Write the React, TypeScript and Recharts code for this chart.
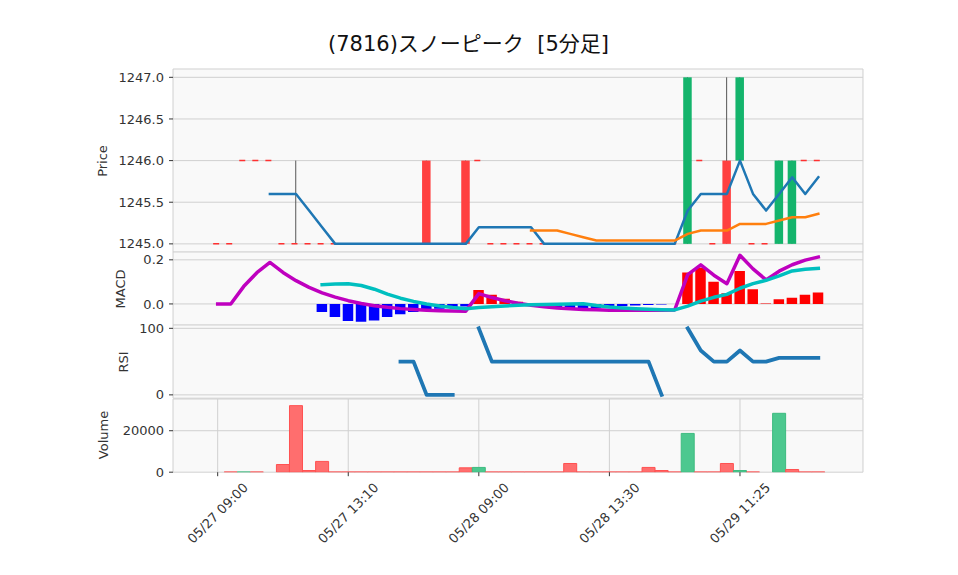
import React from 'react';
import { ComposedChart, Bar, Line, XAxis, YAxis, CartesianGrid, Cell } from 'recharts';

// ---- data (5-minute bars, index 0..46) ----
const barIndex = [
  0, 1, 2, 3, 4, 5, 6, 7, 8, 9, 10, 11, 12, 13, 14, 15, 16, 17, 18, 19, 20, 21, 22, 23,
  24, 25, 26, 27, 28, 29, 30, 31, 32, 33, 34, 35, 36, 37, 38, 39, 40, 41, 42, 43, 44, 45, 46,
];
const tickIndex = [0, 10, 20, 30, 40];
const tickLabels = ['05/27 09:00', '05/27 13:10', '05/28 09:00', '05/28 13:30', '05/29 11:25'];

const opens = [
  1245, 1245, 1246, 1246, 1246, 1245, 1245, 1245, 1245, 1245,
  1245, 1245, 1245, 1245, 1245, 1245, 1246, 1245, 1245, 1246,
  1246, 1245, 1245, 1245, 1245, 1245, 1245, 1245, 1245, 1245,
  1245, 1245, 1245, 1245, 1245, 1245, 1245, 1246, 1245, 1246,
  1246, 1245, 1245, 1245, 1245, 1246, 1246,
];
const highs = [
  1245, 1245, 1246, 1246, 1246, 1245, 1246, 1245, 1245, 1245,
  1245, 1245, 1245, 1245, 1245, 1245, 1246, 1245, 1245, 1246,
  1246, 1245, 1245, 1245, 1245, 1245, 1245, 1245, 1245, 1245,
  1245, 1245, 1245, 1245, 1245, 1245, 1247, 1246, 1245, 1247,
  1247, 1245, 1245, 1246, 1246, 1246, 1246,
];
const lows = [
  1245, 1245, 1246, 1246, 1246, 1245, 1245, 1245, 1245, 1245,
  1245, 1245, 1245, 1245, 1245, 1245, 1245, 1245, 1245, 1245,
  1246, 1245, 1245, 1245, 1245, 1245, 1245, 1245, 1245, 1245,
  1245, 1245, 1245, 1245, 1245, 1245, 1245, 1246, 1245, 1245,
  1246, 1245, 1245, 1245, 1245, 1246, 1246,
];
const closes = [
  1245, 1245, 1246, 1246, 1246, 1245, 1245, 1245, 1245, 1245,
  1245, 1245, 1245, 1245, 1245, 1245, 1245, 1245, 1245, 1245,
  1246, 1245, 1245, 1245, 1245, 1245, 1245, 1245, 1245, 1245,
  1245, 1245, 1245, 1245, 1245, 1245, 1247, 1246, 1245, 1245,
  1247, 1245, 1245, 1246, 1246, 1246, 1246,
];
const ma5 = [
  null, null, null, null, 1245.6, 1245.6, 1245.6, 1245.4, 1245.2, 1245.0,
  1245.0, 1245.0, 1245.0, 1245.0, 1245.0, 1245.0, 1245.0, 1245.0, 1245.0, 1245.0,
  1245.2, 1245.2, 1245.2, 1245.2, 1245.2, 1245.0, 1245.0, 1245.0, 1245.0, 1245.0,
  1245.0, 1245.0, 1245.0, 1245.0, 1245.0, 1245.0, 1245.4, 1245.6, 1245.6, 1245.6,
  1246.0, 1245.6, 1245.4, 1245.6, 1245.8, 1245.6, 1245.8,
];
const ma25 = [
  null, null, null, null, null, null, null, null, null, null,
  null, null, null, null, null, null, null, null, null, null,
  null, null, null, null, 1245.16, 1245.16, 1245.16, 1245.12, 1245.08, 1245.04,
  1245.04, 1245.04, 1245.04, 1245.04, 1245.04, 1245.04, 1245.12, 1245.16, 1245.16, 1245.16,
  1245.24, 1245.24, 1245.24, 1245.28, 1245.32, 1245.32, 1245.36,
];
const macdLine = [
  0, 0, 0.0798, 0.1414, 0.188, 0.1426, 0.1055, 0.0751, 0.0505, 0.0307,
  0.0148, 0.0021, -0.0078, -0.0155, -0.0213, -0.0257, -0.0288, -0.0309, -0.0322, -0.0328,
  0.0468, 0.0289, 0.0145, 0.0031, -0.0059, -0.0128, -0.0181, -0.0221, -0.025, -0.0269,
  -0.0281, -0.0288, -0.0289, -0.0287, -0.0282, -0.0275, 0.1329, 0.1772, 0.1302, 0.0919,
  0.2204, 0.159, 0.1091, 0.1485, 0.1777, 0.1985, 0.2126,
];
const signalLine = [
  null, null, null, null, null, null, null, null, 0.087, 0.0904,
  0.092, 0.0834, 0.0668, 0.0442, 0.026, 0.0114, -0.0001, -0.0092, -0.0161, -0.0214,
  -0.0165, -0.0124, -0.0091, -0.0063, -0.0041, -0.0024, -0.0009, 0.0002, 0.001, -0.0071,
  -0.0135, -0.0183, -0.0218, -0.0244, -0.0261, -0.0271, -0.0099, 0.0126, 0.03, 0.0433,
  0.071, 0.0919, 0.1072, 0.1269, 0.1497, 0.1569, 0.1609,
];
const macdHist = [
  null, null, null, null, null, null, null, null, -0.0365, -0.0597,
  -0.0772, -0.0813, -0.0746, -0.0597, -0.0473, -0.0371, -0.0287, -0.0217, -0.0161, -0.0114,
  0.0633, 0.0413, 0.0236, 0.0094, -0.0018, -0.0104, -0.0172, -0.0223, -0.026, -0.0198,
  -0.0146, -0.0105, -0.0071, -0.0043, -0.0021, -0.0004, 0.1428, 0.1646, 0.1002, 0.0486,
  0.1494, 0.0671, 0.0019, 0.0216, 0.028, 0.0416, 0.0517,
];
const rsiLine = [
  null, null, null, null, null, null, null, null, null, null,
  null, null, null, null, 50, 50, 0, 0, 0, null,
  100, 50, 50, 50, 50, 50, 50, 50, 50, 50,
  50, 50, 50, 50, 0, null, 100, 66.7, 50, 50,
  66.7, 50, 50, 55.6, 55.6, 55.6, 55.6,
];
const volumes = [
  0, 100, 100, 100, 0, 3700, 32100, 800, 5200, 100,
  100, 100, 100, 100, 100, 100, 100, 100, 100, 2100,
  2300, 100, 100, 100, 100, 100, 100, 4200, 100, 100,
  100, 100, 100, 2300, 800, 100, 18700, 100, 100, 4200,
  800, 100, 0, 28400, 1300, 100, 100,
];

const priceTicks = [1245, 1245.5, 1246, 1246.5, 1247];
const macdTicks = [0, 0.2];
const rsiTicks = [0, 100];
const volumeTicks = [0, 20000];

const rows = barIndex.map((i, k) => ({
  i,
  o: opens[k],
  h: highs[k],
  l: lows[k],
  c: closes[k],
  range: [lows[k], highs[k]],
  ma5: ma5[k],
  ma25: ma25[k],
  macd: macdLine[k],
  signal: signalLine[k],
  hist: macdHist[k],
  rsi: rsiLine[k],
  vol: volumes[k],
  volUp: k > 0 && closes[k] > closes[k - 1],
}));

// ---- styling ----
const FONT = '"DejaVu Sans", "Noto Sans CJK JP", sans-serif';
const X_DOMAIN: [number, number] = [-3.42, 49.42];
const PAD = 12; // transparent room above/below each plot so tick labels are not clipped
const MARGIN = { top: PAD, right: 95, bottom: PAD, left: 113 };
const Y_W = 60;
const GRID = '#d0d0d0';
const BG = '#f9f9f9';
const TICK_STYLE = { fontSize: 13, fill: '#333', fontFamily: FONT };

const CandleShape = (props: any) => {
  const { x, y, width, height, payload } = props;
  if (x == null || y == null || !payload) return null;
  const { o, h, l, c } = payload;
  const cx = x + width / 2;
  const ppu = h > l ? height / (h - l) : 0;
  const top = y + (h - Math.max(o, c)) * ppu;
  const bot = y + (h - Math.min(o, c)) * ppu;
  const color = c > o ? '#14b46c' : '#ff4040';
  return (
    <g>
      {h > l && <line x1={cx} y1={y} x2={cx} y2={y + height} stroke="#555" strokeWidth={1} />}
      {o !== c ? (
        <rect x={x} y={top} width={width} height={bot - top} fill={color} />
      ) : (
        <line x1={x} y1={top} x2={x + width} y2={top} stroke="#ff3030" strokeWidth={1.5} strokeDasharray="6 3" />
      )}
    </g>
  );
};

const XTick = (props: any) => {
  const { x, y, payload } = props;
  const k = tickIndex.indexOf(payload.value);
  const ty = y + 37;
  return (
    <text
      x={x}
      y={ty}
      textAnchor="middle"
      dominantBaseline="central"
      transform={`rotate(-45, ${x}, ${ty})`}
      fontSize={13}
      fill="#333"
      fontFamily={FONT}
    >
      {k >= 0 ? tickLabels[k] : ''}
    </text>
  );
};

const hiddenX = (
  <XAxis
    type="number"
    dataKey="i"
    domain={X_DOMAIN}
    ticks={tickIndex}
    allowDataOverflow
    interval={0}
    height={0}
    tick={false}
    tickLine={false}
    axisLine={false}
  />
);

const yAxisProps = {
  type: 'number' as const,
  width: Y_W,
  tick: TICK_STYLE,
  tickLine: { stroke: '#333' },
  tickSize: 4,
  tickMargin: 5,
  axisLine: false,
  allowDataOverflow: true,
  interval: 0 as const,
};

const YLabel = ({ text, cx, cy }: { text: string; cx: number; cy: number }) => (
  <div
    style={{
      position: 'absolute',
      left: cx,
      top: cy,
      transform: 'translate(-50%, -50%) rotate(-90deg)',
      fontSize: 13,
      color: '#333',
      whiteSpace: 'nowrap',
      fontFamily: FONT,
      lineHeight: '15px',
    }}
  >
    {text}
  </div>
);

const PRICE_TOP = 69;
const PRICE_H = 183.2;
const MACD_TOP = 252.2;
const SUB_H = 73.2;
const RSI_TOP = 325.4;
const VOL_TOP = 398.6;
const XAXIS_H = 100;

export default function App() {
  return (
    <div style={{ position: 'absolute', left: 0, top: 0, width: 958, height: 575, background: '#fff', fontFamily: FONT }}>
      <div
        style={{
          position: 'absolute',
          left: 0,
          top: 31,
          width: 937,
          textAlign: 'center',
          fontSize: 21,
          lineHeight: '26px',
          color: '#111',
          whiteSpace: 'pre',
        }}
      >
        {'(7816)スノーピーク  [5分足]'}
      </div>

      {/* Price panel */}
      <div style={{ position: 'absolute', left: 0, top: PRICE_TOP - PAD }}>
        <ComposedChart width={958} height={PRICE_H + 2 * PAD} data={rows} margin={MARGIN}>
          <CartesianGrid stroke={GRID} fill={BG} />
          {hiddenX}
          <YAxis {...yAxisProps} domain={[1244.9, 1247.1]} ticks={priceTicks} tickFormatter={(v: number) => v.toFixed(1)} />
          <Bar dataKey="range" barSize={8.5} isAnimationActive={false} shape={(p: any) => <CandleShape {...p} />} />
          <Line dataKey="ma5" stroke="#1f77b4" strokeWidth={2.5} dot={false} isAnimationActive={false} strokeLinecap="square" strokeLinejoin="round" />
          <Line dataKey="ma25" stroke="#ff7f0e" strokeWidth={2.5} dot={false} isAnimationActive={false} strokeLinecap="square" strokeLinejoin="round" />
        </ComposedChart>
      </div>

      {/* MACD panel */}
      <div style={{ position: 'absolute', left: 0, top: MACD_TOP - PAD }}>
        <ComposedChart width={958} height={SUB_H + 2 * PAD} data={rows} margin={MARGIN}>
          <CartesianGrid stroke={GRID} fill={BG} />
          {hiddenX}
          <YAxis {...yAxisProps} domain={[-0.0964, 0.2355]} ticks={macdTicks} tickFormatter={(v: number) => v.toFixed(1)} />
          <Bar dataKey="hist" barSize={10.5} isAnimationActive={false}>
            {rows.map((r, k) => (
              <Cell key={k} fill={(r.hist ?? 0) >= 0 ? '#ff0000' : '#0000ff'} />
            ))}
          </Bar>
          <Line dataKey="macd" stroke="#bf00bf" strokeWidth={3.5} dot={false} isAnimationActive={false} strokeLinecap="square" strokeLinejoin="round" />
          <Line dataKey="signal" stroke="#00bfbf" strokeWidth={3.5} dot={false} isAnimationActive={false} strokeLinecap="square" strokeLinejoin="round" />
        </ComposedChart>
      </div>

      {/* RSI panel */}
      <div style={{ position: 'absolute', left: 0, top: RSI_TOP - PAD }}>
        <ComposedChart width={958} height={SUB_H + 2 * PAD} data={rows} margin={MARGIN}>
          <CartesianGrid stroke={GRID} fill={BG} />
          {hiddenX}
          <YAxis {...yAxisProps} domain={[-5, 105]} ticks={rsiTicks} />
          <Line dataKey="rsi" stroke="#1f77b4" strokeWidth={3.8} dot={false} isAnimationActive={false} strokeLinecap="square" strokeLinejoin="round" />
        </ComposedChart>
      </div>

      {/* Volume panel */}
      <div style={{ position: 'absolute', left: 0, top: VOL_TOP - PAD }}>
        <ComposedChart width={958} height={SUB_H + XAXIS_H + PAD} data={rows} margin={{ ...MARGIN, bottom: 0 }}>
          <CartesianGrid stroke={GRID} fill={BG} />
          <XAxis
            type="number"
            dataKey="i"
            domain={X_DOMAIN}
            ticks={tickIndex}
            allowDataOverflow
            height={XAXIS_H}
            tick={<XTick />}
            tickLine={{ stroke: '#333' }}
            tickSize={4}
            tickMargin={0}
            axisLine={false}
            interval={0}
          />
          <YAxis {...yAxisProps} domain={[0, 35300]} ticks={volumeTicks} />
          <Bar dataKey="vol" barSize={13} isAnimationActive={false} strokeWidth={1}>
            {rows.map((r, k) => (
              <Cell key={k} fill={r.volUp ? '#4cc88f' : '#ff6e6e'} stroke={r.volUp ? '#3dbb80' : '#ff5050'} />
            ))}
          </Bar>
        </ComposedChart>
      </div>

      <YLabel text="Price" cx={102} cy={160.6} />
      <YLabel text="MACD" cx={120} cy={288.8} />
      <YLabel text="RSI" cx={122.5} cy={362} />
      <YLabel text="Volume" cx={103} cy={435.2} />
    </div>
  );
}
